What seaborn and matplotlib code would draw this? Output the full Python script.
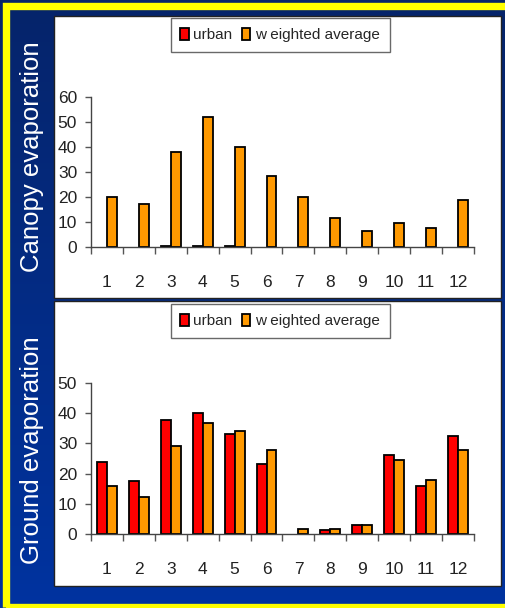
import numpy as np
import pandas as pd
import matplotlib
matplotlib.use("Agg")
import matplotlib.pyplot as plt
import seaborn as sns
from matplotlib.patches import Rectangle

# data
months = [str(m) for m in range(1, 13)]
series = ["urban", "w eighted average"]

canopy_urban = [0, 0, 0.6, 0.6, 0.6, 0, 0, 0, 0, 0, 0, 0]
canopy_weighted = [20, 17.4, 38, 51.9, 40.1, 28.4, 20, 11.8, 6.4, 9.8, 7.7, 18.8]

ground_urban = [23.8, 17.4, 37.7, 40, 33.1, 23.3, 0, 1.2, 3, 26.2, 15.8, 32.4]
ground_weighted = [15.8, 12.3, 29, 36.6, 34.2, 27.9, 1.8, 1.8, 3, 24.4, 18, 27.9]

canopy_ticks = [0, 10, 20, 30, 40, 50, 60]
ground_ticks = [0, 10, 20, 30, 40, 50]

colors = ["#ff0000", "#ff9900"]

sns.set_theme(style="white")
narrow = ["Liberation Sans Narrow", "Liberation Sans", "DejaVu Sans"]
plt.rcParams["font.family"] = ["Liberation Sans", "DejaVu Sans"]

W, H = 506, 608
fig = plt.figure(figsize=(W / 100, H / 100), dpi=100)

# navy gradient background
bg = fig.add_axes([0, 0, 1, 1], zorder=-10)
grad = np.linspace(0, 1, 256).reshape(-1, 1)
cmap = matplotlib.colors.LinearSegmentedColormap.from_list("navy", ["#06246a", "#0033a0"])
bg.imshow(grad, aspect="auto", cmap=cmap, extent=[0, 1, 0, 1], origin="upper")
bg.set_axis_off()


def fx(px):
    return px / W


def fy(py):
    return 1 - py / H


# yellow frame
fig.add_artist(Rectangle((fx(6.5), fy(606.5)), fx(507.5 - 6.5), (606.5 - 6) / H,
                         transform=fig.transFigure, fill=False, edgecolor="#ffff00",
                         linewidth=5.3, clip_on=False, zorder=10))

# white panels
for top, bot in [(16, 298), (301, 586)]:
    fig.add_artist(Rectangle((fx(54), fy(bot)), fx(501 - 54), (bot - top) / H,
                             transform=fig.transFigure, facecolor="white",
                             edgecolor="#222222", linewidth=1.0, zorder=-5))

panels = [
    ("Canopy evaporation", canopy_urban, canopy_weighted, canopy_ticks, 97, 247, 157, 35),
    ("Ground evaporation", ground_urban, ground_weighted, ground_ticks, 383, 534, 450, 321),
]

for title, urban, weighted, yticks, ytop, ybot, label_y, leg_y in panels:
    ax = fig.add_axes([fx(91), fy(ybot), fx(474 - 91), (ybot - ytop) / H])
    df = pd.DataFrame({
        "month": months * 2,
        "value": urban + weighted,
        "series": [series[0]] * 12 + [series[1]] * 12,
    })
    sns.barplot(data=df, x="month", y="value", hue="series", order=months,
                hue_order=series, palette=colors, saturation=1, width=0.62, gap=0,
                edgecolor="black", linewidth=1.3, errorbar=None, ax=ax)
    # empty months show no outline
    for bars in ax.containers:
        for p in bars:
            if p.get_height() == 0:
                p.set_linewidth(0)
    ax.set_facecolor("none")
    ax.set_xlim(-0.5, 11.5)
    ax.set_ylim(0, yticks[-1])
    ax.set_yticks(yticks)
    ax.set_xticks(range(12))
    ax.set_xticklabels(months)
    ax.set_xticks(np.arange(-0.5, 12, 1), minor=True)
    ax.tick_params(axis="x", which="major", length=0, pad=20, labelsize=12.5, colors="#222222")
    ax.tick_params(axis="x", which="minor", length=5, width=1, color="#555555", direction="out",
                   bottom=True)
    ax.tick_params(axis="y", length=4, width=1, color="#555555", pad=6, labelsize=12.5,
                   colors="#222222", left=True)
    for lab in ax.get_xticklabels() + ax.get_yticklabels():
        lab.set_family(narrow)
    ax.set_xlabel("")
    ax.set_ylabel("")
    sns.despine(ax=ax)
    for side in ["left", "bottom"]:
        ax.spines[side].set_color("#444444")
        ax.spines[side].set_linewidth(1.0)

    handles, labels = ax.get_legend_handles_labels()
    ax.get_legend().remove()
    leg = fig.legend(handles, labels, loc="center", bbox_to_anchor=(fx(280), fy(leg_y)),
                     ncol=2, frameon=True, fancybox=False, edgecolor="#444444",
                     prop={"family": narrow, "size": 11}, handlelength=0.55, handleheight=0.9,
                     handletextpad=0.3, columnspacing=0.6, borderpad=0.65, borderaxespad=0)
    for h in leg.legend_handles:
        h.set_edgecolor("black")
        h.set_linewidth(1.3)

    fig.text(fx(32), fy(label_y), title, rotation=90, ha="center", va="center",
             color="white", fontsize=18.5)

fig.savefig("out.png", dpi=100)
